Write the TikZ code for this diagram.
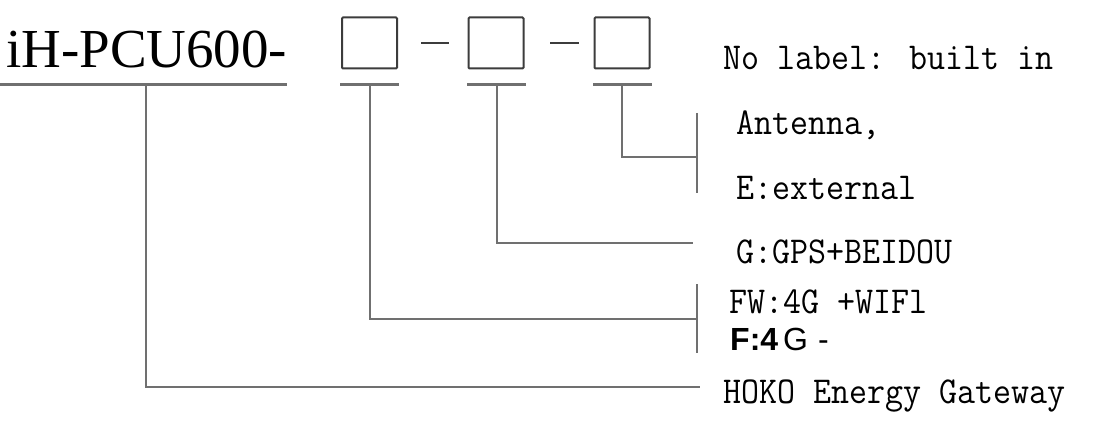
\documentclass[tikz,border=0pt]{standalone}
\usepackage{fontspec}
\setmainfont{Liberation Serif}
\newfontfamily\monof[FakeStretch=0.92]{Latin Modern Mono}
\newfontfamily\sansf{Liberation Sans}
\definecolor{linegray}{RGB}{112,112,112}
\definecolor{boxgray}{RGB}{60,60,60}
\tikzset{
  conn/.style={draw=linegray, line width=2.4pt},
  uline/.style={draw=linegray, line width=3pt},
  slot/.style={draw=boxgray, line width=2pt, minimum width=55pt, minimum height=51pt, inner sep=0pt, rounded corners=1pt},
  lbl/.style={anchor=base west, inner sep=0pt, font=\monof\fontsize{38}{42}\selectfont},
}
\begin{document}
\begin{tikzpicture}[x=1pt,y=-1pt]
\useasboundingbox (0,0) rectangle (1103,433);
% title
\node[anchor=base west, inner sep=0pt, font=\fontsize{55}{60}\selectfont] (title) at (6,68) {iH-PCU600-};
% slots
\node[slot] (b1) at (369.5,43) {};
\node[slot] (b2) at (496,43) {};
\node[slot] (b3) at (622,43) {};
\draw[draw=boxgray, line width=2pt] (421,43) -- (449,43);
\draw[draw=boxgray, line width=2pt] (550,43) -- (579,43);
% underlines
\coordinate (u0a) at (0,85); \coordinate (u0b) at (287,85);
\coordinate (u1a) at (340,85); \coordinate (u1b) at (399,85);
\coordinate (u2a) at (467,85); \coordinate (u2b) at (526,85);
\coordinate (u3a) at (593,85); \coordinate (u3b) at (652,85);
\draw[uline] (u0a) -- (u0b);
\draw[uline] (u1a) -- (u1b);
\draw[uline] (u2a) -- (u2b);
\draw[uline] (u3a) -- (u3b);
% labels
\node[lbl] (nolab) at (723,70) {No label: built in};
\node[lbl] (ant) at (736,135) {Antenna,};
\node[lbl] (ext) at (736,199) {E:external};
\node[lbl] (gps) at (736,263) {G:GPS+BEIDOU};
\node[lbl] (fw) at (729,313) {FW:4G +WIFl};
\node[anchor=base west, inner sep=0pt, font=\sansf\fontsize{32}{36}\selectfont] (f4g) at (730,350) {\textbf{F:4}\hspace{5pt}G\hspace{10pt}-};
\node[lbl] (hoko) at (723,403) {HOKO Energy Gateway};
% brackets
\coordinate (k1t) at (697,113); \coordinate (k1b) at (697,193);
\coordinate (k2t) at (697,284); \coordinate (k2b) at (697,353);
\draw[conn] (k1t) -- (k1b);
\draw[conn] (k2t) -- (k2b);
% connectors
\coordinate (t3) at (622,85); \coordinate (t2) at (497,85);
\coordinate (t1) at (370,85); \coordinate (t0) at (146,85);
\draw[conn] (t3) |- (697,157);
\draw[conn] (t2) |- (693,243);
\draw[conn] (t1) |- (697,319);
\draw[conn] (t0) |- (700,387);
\end{tikzpicture}
\end{document}
